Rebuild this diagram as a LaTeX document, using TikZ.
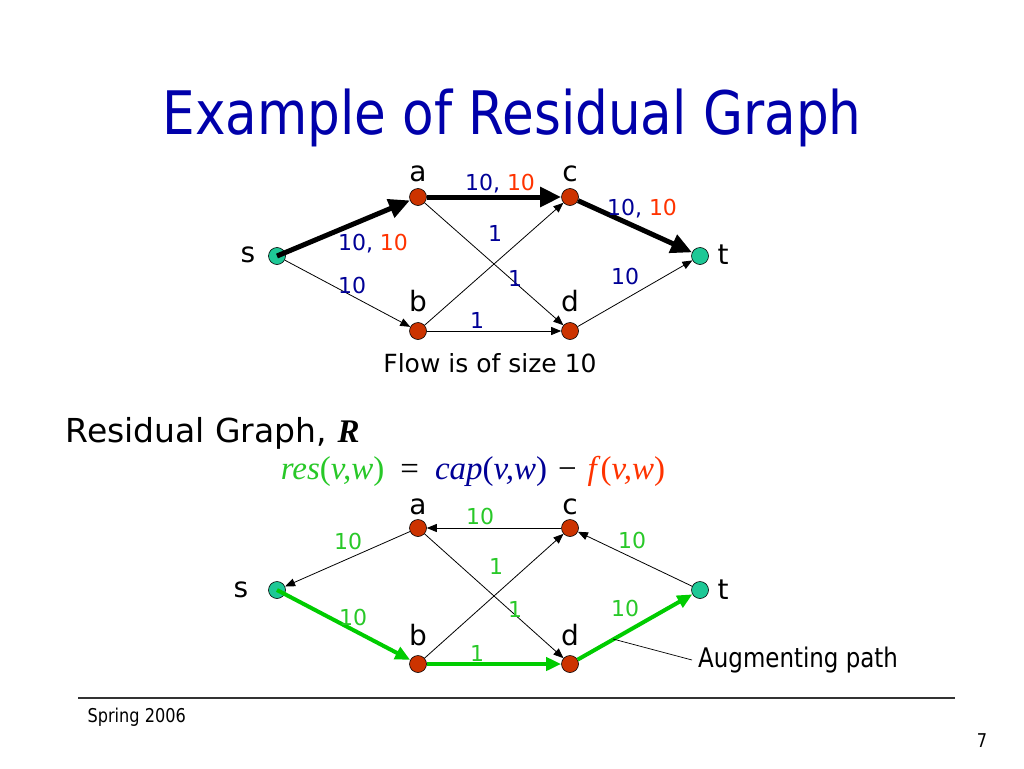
\documentclass[tikz,border=0pt]{standalone}
\usepackage{fontspec}
\setmainfont{DejaVu Sans}
\newfontfamily\titlefont[FakeStretch=0.86]{DejaVu Sans}
\newfontfamily\narrowfont[FakeStretch=0.85]{DejaVu Sans}
\newfontfamily\timesfont{Liberation Serif}
\usepackage{tikz}
\usetikzlibrary{arrows.meta, positioning}

\definecolor{titleblue}{RGB}{0,0,170}
\definecolor{capblue}{RGB}{0,0,150}
\definecolor{flowred}{RGB}{255,51,0}
\definecolor{resgreen}{RGB}{40,200,40}
\definecolor{pathgreen}{RGB}{0,204,0}
\definecolor{endteal}{RGB}{30,200,150}
\definecolor{midred}{RGB}{204,51,0}

\begin{document}
\begin{tikzpicture}[x=1pt, y=-1pt,
    endpt/.style={circle, draw=black, fill=endteal, inner sep=0pt, minimum size=17pt, line width=0.6pt},
    midpt/.style={circle, draw=black, fill=midred, inner sep=0pt, minimum size=17pt, line width=0.6pt},
    vlabel/.style={font=\fontsize{28}{28}\selectfont},
    num/.style={font=\fontsize{22}{22}\selectfont, inner sep=0pt},
    edge/.style={-{Triangle[length=10pt, width=8pt]}, line width=0.8pt},
    flow/.style={-{Triangle[length=21pt, width=19pt]}, line width=5pt},
    aug/.style={-{Triangle[length=15pt, width=13pt]}, line width=4pt, pathgreen}
]
\useasboundingbox (0,0) rectangle (1024,768);

% Title
\node[font=\titlefont\fontsize{60}{60}\selectfont, text=titleblue] (title) at (512,118) {Example of Residual Graph};

% Flow network
\node[endpt] (s) at (277,256) {};
\node[midpt] (a) at (418,197) {};
\node[midpt] (c) at (570,197) {};
\node[midpt] (b) at (418,331) {};
\node[midpt] (d) at (570,331) {};
\node[endpt] (t) at (700,256) {};

\node[vlabel] (s-name) at (248,255) {s};
\node[vlabel] (a-name) at (418,174) {a};
\node[vlabel] (c-name) at (570,174) {c};
\node[vlabel] (b-name) at (418,301) {b};
\node[vlabel] (d-name) at (570,301) {d};
\node[vlabel] (t-name) at (723,255) {t};

\draw[flow] (s.center) -- (a);
\draw[flow] (a) -- (c);
\draw[flow] (c) -- (t);
\draw[edge] (s) -- (b);
\draw[edge] (b) -- (d);
\draw[edge] (d) -- (t);
\draw[edge] (a) -- (d);
\draw[edge] (b) -- (c);

\node[num, text=capblue] (sa-lbl) at (373,244) {10, \textcolor{flowred}{10}};
\node[num, text=capblue] (ac-lbl) at (500,184) {10, \textcolor{flowred}{10}};
\node[num, text=capblue] (ct-lbl) at (642,209) {10, \textcolor{flowred}{10}};
\node[num, text=capblue] (bc-lbl) at (495,233) {1};
\node[num, text=capblue] (ad-lbl) at (515,278) {1};
\node[num, text=capblue] (sb-lbl) at (352,285) {10};
\node[num, text=capblue] (dt-lbl) at (625,276) {10};
\node[num, text=capblue] (bd-lbl) at (477,320) {1};

\node[font=\fontsize{25}{25}\selectfont] (flowsize) at (490,363) {Flow is of size 10};

% Residual graph
\node[font=\fontsize{33}{33}\selectfont, anchor=west] (rtitle) at (62,433) {Residual Graph, {\timesfont\bfseries\itshape R}};
\node[font=\timesfont\fontsize{33}{33}\selectfont] (formula) at (473,471)
  {\textcolor{resgreen}{\textit{res}(\textit{v,w})}\hspace{16pt}=\hspace{16pt}\textcolor{capblue}{\textit{cap}(\textit{v,w})}\hspace{11pt}−\hspace{11pt}\textcolor{flowred}{\textit{f}(\textit{v,w})}};

\node[endpt] (rs) at (277,590) {};
\node[midpt] (ra) at (418,528) {};
\node[midpt] (rc) at (570,528) {};
\node[midpt] (rb) at (418,664) {};
\node[midpt] (rd) at (570,664) {};
\node[endpt] (rt) at (700,590) {};

\node[vlabel] (rs-name) at (241,590) {s};
\node[vlabel] (ra-name) at (418,507) {a};
\node[vlabel] (rc-name) at (570,507) {c};
\node[vlabel] (rb-name) at (418,635) {b};
\node[vlabel] (rd-name) at (570,635) {d};
\node[vlabel] (rt-name) at (723,590) {t};

\draw[edge] (ra) -- (rs);
\draw[edge] (rc) -- (ra);
\draw[edge] (rt) -- (rc);
\draw[edge] (ra) -- (rd);
\draw[edge] (rb) -- (rc);
\draw[aug] (rs.center) -- (rb);
\draw[aug] (rb) -- (rd);
\draw[aug] (rd) -- (rt);

\node[num, text=resgreen] (rsa-lbl) at (348,541) {10};
\node[num, text=resgreen] (rac-lbl) at (480,516) {10};
\node[num, text=resgreen] (rct-lbl) at (632,540) {10};
\node[num, text=resgreen] (rbc-lbl) at (496,566) {1};
\node[num, text=resgreen] (rad-lbl) at (515,609) {1};
\node[num, text=resgreen] (rsb-lbl) at (353,617) {10};
\node[num, text=resgreen] (rdt-lbl) at (625,608) {10};
\node[num, text=resgreen] (rbd-lbl) at (477,653) {1};

% Augmenting path note
\coordinate (augpt) at (613,639);
\node[font=\narrowfont\fontsize{27}{27}\selectfont, anchor=west, inner sep=2pt] (augtext) at (696,660) {Augmenting path};
\draw[line width=0.7pt] (augpt) -- ([xshift=-4pt]augtext.west);

% Footer
\coordinate (rule-l) at (78,698);
\coordinate (rule-r) at (955,698);
\draw[line width=1.2pt, black!80] (rule-l) -- (rule-r);
\node[font=\narrowfont\fontsize{19}{19}\selectfont, anchor=west] (season) at (84,717) {Spring 2006};
\node[font=\narrowfont\fontsize{19}{19}\selectfont] (pageno) at (982,741) {7};

\end{tikzpicture}
\end{document}
